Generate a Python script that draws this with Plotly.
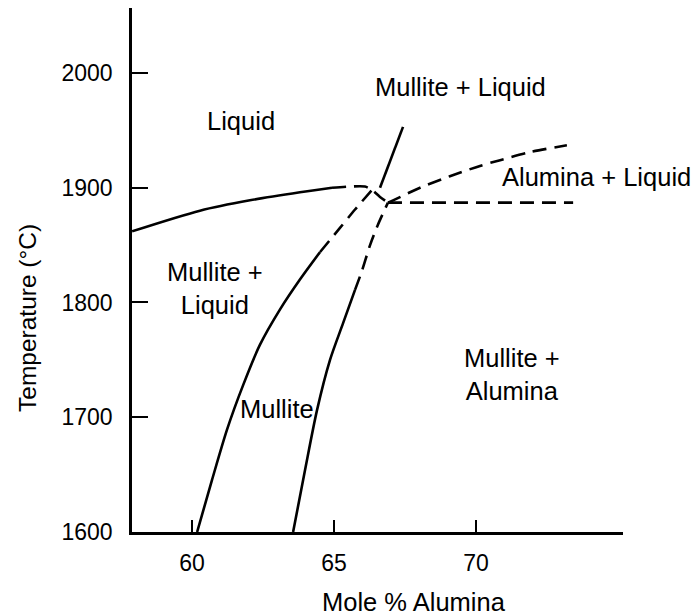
import plotly.graph_objects as go

# Phase boundaries near mullite in the SiO2–Al2O3 system
# (composition in mole % Al2O3, temperature in °C)

# Liquidus on the silica-rich side (solid) and its uncertain continuation (dashed)
liquidus_x = [57.89, 60.28, 62.04, 63.80, 64.93]
liquidus_y = [1862, 1880, 1889, 1896, 1900]
liquidus_ext_x = [64.93, 65.56, 66.09, 66.34, 66.62, 66.90]
liquidus_ext_y = [1900, 1901, 1901, 1898, 1892, 1887]

# Steep mullite liquidus toward higher temperature
mullite_liq_x = [66.62, 67.43]
mullite_liq_y = [1900, 1953]

# Alumina liquidus (dashed)
alumina_liq_x = [66.90, 67.08, 68.03, 69.08, 70.14, 70.85, 71.90, 73.20]
alumina_liq_y = [1887, 1889, 1900, 1910, 1919, 1924, 1931, 1937]

# Eutectic horizontal between mullite + alumina and liquid (dashed)
eutectic_x = [66.90, 73.42]
eutectic_y = [1887, 1887]

# Silica-side boundary of the mullite field
mullite_left_x = [60.18, 60.70, 61.23, 61.80, 62.39, 63.10, 63.80, 64.51]
mullite_left_y = [1600, 1645, 1689, 1728, 1763, 1794, 1820, 1844]
mullite_left_ext_x = [64.51, 65.21, 65.74, 66.34]
mullite_left_ext_y = [1844, 1865, 1881, 1898]

# Alumina-side boundary of the mullite field
mullite_right_x = [63.56, 63.98, 64.40, 64.86, 65.32, 65.74]
mullite_right_y = [1600, 1654, 1706, 1750, 1782, 1811]
mullite_right_ext_x = [65.74, 65.99, 66.27, 66.55, 66.90]
mullite_right_ext_y = [1811, 1828, 1850, 1868, 1887]

# Phase-field labels
region_text = ["Liquid", "Mullite + Liquid", "Alumina + Liquid",
               "Mullite +<br>Liquid", "Mullite", "Mullite +<br>Alumina"]
region_x = [61.73, 69.44, 74.26, 60.81, 62.99, 71.27]
region_y = [1958, 1988, 1909, 1812, 1707, 1737]

x_ticks = [60, 65, 70]
y_ticks = [1600, 1700, 1800, 1900, 2000]

FONT = "Liberation Sans, Arial, Helvetica, sans-serif"
LW = 2.6
DASH = "14px,8px"
LABEL_SIZE = 25.5
TICK_SIZE = 23

W, H = 699, 616
L, R, T, B = 132, 76, 8, 84

fig = go.Figure()

def boundary(xs, ys, dashed=False, smooth=True):
    fig.add_trace(go.Scatter(
        x=xs, y=ys, mode="lines",
        line=dict(color="black", width=LW,
                  dash=DASH if dashed else "solid",
                  shape="spline" if smooth else "linear",
                  smoothing=0.8),
        hoverinfo="skip", showlegend=False,
    ))

boundary(liquidus_x, liquidus_y)
boundary(liquidus_ext_x, liquidus_ext_y, dashed=True)
boundary(mullite_liq_x, mullite_liq_y, smooth=False)
boundary(alumina_liq_x, alumina_liq_y, dashed=True)
boundary(eutectic_x, eutectic_y, dashed=True, smooth=False)
boundary(mullite_left_x, mullite_left_y)
boundary(mullite_left_ext_x, mullite_left_ext_y, dashed=True)
boundary(mullite_right_x, mullite_right_y)
boundary(mullite_right_ext_x, mullite_right_ext_y, dashed=True)

annotations = [
    dict(x=x, y=y, text=t, showarrow=False, xref="x", yref="y",
         xanchor="center", yanchor="middle",
         font=dict(family=FONT, size=LABEL_SIZE, color="black"), align="center")
    for t, x, y in zip(region_text, region_x, region_y)
]

# axis titles, placed by pixel position below / left of the plotting area
pw, ph = W - L - R, H - T - B

def paper_pos(px, py):
    return (px - L) / pw, (H - B - py) / ph

tx, ty = paper_pos(414, 602)
annotations.append(dict(
    x=tx, y=ty, xref="paper", yref="paper", text="Mole % Alumina",
    xanchor="center", yanchor="middle", showarrow=False,
    font=dict(family=FONT, size=LABEL_SIZE, color="black")))
tx, ty = paper_pos(28, 318)
annotations.append(dict(
    x=tx, y=ty, xref="paper", yref="paper", text="Temperature (°C)",
    xanchor="center", yanchor="middle", textangle=-90, showarrow=False,
    font=dict(family=FONT, size=24.5, color="black")))

fig.update_layout(
    width=W, height=H,
    margin=dict(l=L, r=R, t=T, b=B, pad=0),
    paper_bgcolor="white", plot_bgcolor="white",
    annotations=annotations,
    font=dict(family=FONT, size=TICK_SIZE, color="black"),
)

fig.update_xaxes(
    range=[57.887, 75.176], tickvals=x_ticks, ticktext=[str(v) for v in x_ticks],
    showline=True, linecolor="black", linewidth=LW, showgrid=False, zeroline=False,
    ticks="inside", ticklen=12, tickwidth=2, tickcolor="black",
    ticklabelstandoff=9, tickfont=dict(family=FONT, size=TICK_SIZE, color="black"),
)
fig.update_yaxes(
    range=[1600, 2056.6], tickvals=y_ticks, ticktext=[str(v) for v in y_ticks],
    showline=True, linecolor="black", linewidth=LW, showgrid=False, zeroline=False,
    ticks="inside", ticklen=16, tickwidth=2, tickcolor="black",
    ticklabelstandoff=12, tickfont=dict(family=FONT, size=TICK_SIZE, color="black"),
)

fig.write_html("out.html")
